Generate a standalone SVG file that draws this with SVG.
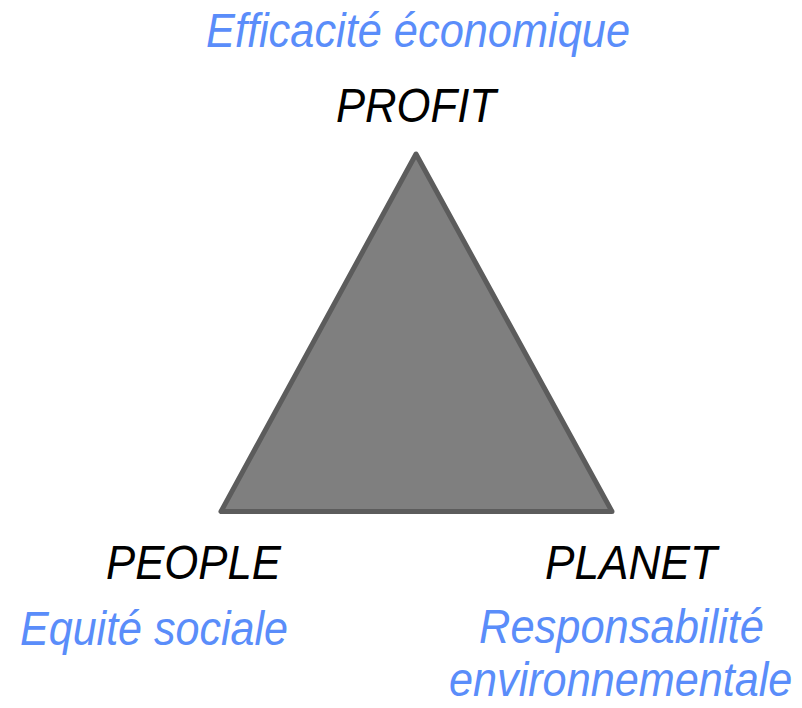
<svg xmlns="http://www.w3.org/2000/svg" width="802" height="708" viewBox="0 0 802 708">
<style>
  text { font-family: "Liberation Sans", Arial, sans-serif; font-style: italic; font-size: 49px; }
  .title { fill: #000000; }
  .sub { fill: #5a8dfa; }
  .tri { fill: #7f7f7f; stroke: #5c5c5c; stroke-width: 5; stroke-linejoin: round; }
</style>
<rect width="802" height="708" fill="#ffffff"/>
<g id="triangle">
  <polygon class="tri" points="416,154 221,511.5 612,511.5"/>
</g>
<g id="connectors"></g>
<g id="profit">
  <text class="sub" x="206" y="47" textLength="424" lengthAdjust="spacingAndGlyphs">Efficacité économique</text>
  <text class="title" x="336" y="122" textLength="160" lengthAdjust="spacingAndGlyphs">PROFIT</text>
</g>
<g id="people">
  <text class="title" x="106" y="579" textLength="175" lengthAdjust="spacingAndGlyphs">PEOPLE</text>
  <text class="sub" x="20" y="645" textLength="268" lengthAdjust="spacingAndGlyphs">Equité sociale</text>
</g>
<g id="planet">
  <text class="title" x="545" y="579" textLength="172" lengthAdjust="spacingAndGlyphs">PLANET</text>
  <text class="sub" x="479" y="643" textLength="285" lengthAdjust="spacingAndGlyphs">Responsabilité</text>
  <text class="sub" transform="translate(449,696) scale(0.9,1)" x="0" y="0" style="font-size:48px">environnementale</text>
</g>
</svg>
